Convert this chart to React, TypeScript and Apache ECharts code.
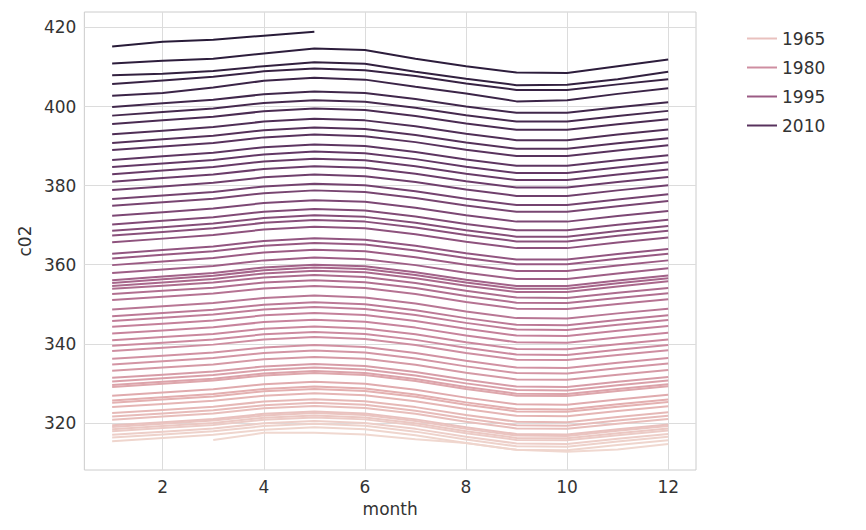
import React, { useEffect, useRef } from "react";
import * as echarts from "echarts";

const months = [1, 2, 3, 4, 5, 6, 7, 8, 9, 10, 11, 12];
const startYear = 1958;
const xTicks = [2, 4, 6, 8, 10, 12];
const yTicks = [320, 340, 360, 380, 400, 420];
const legendYears = ["1965", "1980", "1995", "2010"];
const rows: (number | null)[][] = [
[null,null,315.7,317.5,317.5,317.1,315.9,314.9,313.2,312.7,313.3,314.7],
[315.4,316.2,317.0,318.3,318.9,318.4,316.9,314.9,313.2,313.1,314.4,315.6],
[316.3,317.1,317.9,319.2,319.8,319.3,317.8,315.8,314.1,314.0,315.3,316.5],
[317.0,317.8,318.6,319.9,320.5,320.0,318.5,316.5,314.8,314.7,316.0,317.2],
[317.9,318.7,319.5,320.8,321.4,320.9,319.4,317.4,315.7,315.6,316.9,318.1],
[318.4,319.2,320.0,321.3,321.9,321.4,319.9,317.9,316.2,316.1,317.4,318.6],
[319.0,319.8,320.6,321.9,322.5,322.0,320.5,318.5,316.8,316.7,318.0,319.2],
[319.4,320.2,321.0,322.3,322.9,322.4,320.9,318.9,317.2,317.1,318.4,319.6],
[320.8,321.6,322.4,323.7,324.3,323.8,322.3,320.3,318.6,318.5,319.8,321.0],
[321.6,322.4,323.2,324.5,325.1,324.6,323.1,321.1,319.4,319.3,320.6,321.8],
[322.5,323.3,324.1,325.4,326.0,325.5,324.0,322.0,320.3,320.2,321.5,322.7],
[324.0,324.8,325.6,326.9,327.5,327.0,325.5,323.5,321.8,321.7,323.0,324.2],
[325.1,325.9,326.7,328.0,328.6,328.1,326.6,324.6,322.9,322.8,324.1,325.3],
[325.7,326.5,327.3,328.6,329.2,328.7,327.2,325.2,323.5,323.4,324.7,325.9],
[326.9,327.7,328.5,329.8,330.4,329.9,328.4,326.4,324.7,324.6,325.9,327.1],
[329.1,329.9,330.7,332.0,332.6,332.1,330.6,328.6,326.9,326.8,328.1,329.3],
[329.6,330.4,331.2,332.5,333.1,332.6,331.1,329.1,327.4,327.3,328.6,329.8],
[330.5,331.3,332.1,333.4,334.0,333.5,332.0,330.0,328.3,328.2,329.5,330.7],
[331.4,332.2,333.0,334.3,334.9,334.4,332.9,330.9,329.2,329.1,330.4,331.6],
[333.2,334.0,334.8,336.1,336.7,336.2,334.7,332.7,331.0,330.9,332.2,333.4],
[334.8,335.6,336.4,337.7,338.3,337.8,336.3,334.3,332.6,332.5,333.8,335.0],
[336.2,337.0,337.8,339.1,339.7,339.2,337.7,335.7,334.0,333.9,335.2,336.4],
[338.2,339.0,339.8,341.1,341.7,341.2,339.7,337.7,336.0,335.9,337.2,338.4],
[339.5,340.3,341.1,342.4,343.0,342.5,341.0,339.0,337.3,337.2,338.5,339.7],
[340.9,341.7,342.5,343.8,344.4,343.9,342.4,340.4,338.7,338.6,339.9,341.1],
[342.6,343.4,344.2,345.5,346.1,345.6,344.1,342.1,340.4,340.3,341.6,342.8],
[344.3,345.1,345.9,347.2,347.8,347.3,345.8,343.8,342.1,342.0,343.3,344.5],
[345.8,346.6,347.4,348.7,349.3,348.8,347.3,345.3,343.6,343.5,344.8,346.0],
[347.0,347.8,348.6,349.9,350.5,350.0,348.5,346.5,344.8,344.7,346.0,347.2],
[348.7,349.5,350.3,351.6,352.2,351.7,350.2,348.2,346.5,346.4,347.7,348.9],
[351.1,351.9,352.7,354.0,354.6,354.1,352.6,350.6,348.9,348.8,350.1,351.3],
[352.6,353.4,354.2,355.5,356.1,355.6,354.1,352.1,350.4,350.3,351.6,352.8],
[353.9,354.7,355.5,356.8,357.4,356.9,355.4,353.4,351.7,351.6,352.9,354.1],
[354.6,355.5,356.4,357.8,358.5,358.1,356.6,354.7,353.1,353.1,354.5,355.8],
[355.4,356.3,357.2,358.6,359.3,358.9,357.4,355.5,353.9,353.9,355.3,356.6],
[356.1,357.0,357.9,359.3,360.0,359.6,358.1,356.2,354.6,354.6,356.0,357.3],
[357.9,358.8,359.7,361.1,361.8,361.4,359.9,358.0,356.4,356.4,357.8,359.1],
[359.9,360.8,361.7,363.1,363.8,363.4,361.9,360.0,358.4,358.4,359.8,361.1],
[361.6,362.5,363.4,364.8,365.5,365.1,363.6,361.7,360.1,360.1,361.5,362.8],
[362.8,363.7,364.6,366.0,366.7,366.3,364.8,362.9,361.3,361.3,362.7,364.0],
[365.7,366.6,367.5,368.9,369.6,369.2,367.7,365.8,364.2,364.2,365.6,366.9],
[367.4,368.3,369.2,370.6,371.3,370.9,369.4,367.5,365.9,365.9,367.3,368.6],
[368.6,369.5,370.4,371.8,372.5,372.1,370.6,368.7,367.1,367.1,368.5,369.8],
[370.2,371.1,372.0,373.4,374.1,373.7,372.2,370.3,368.7,368.7,370.1,371.4],
[372.4,373.3,374.2,375.6,376.3,375.9,374.4,372.5,370.9,370.9,372.3,373.6],
[374.9,375.8,376.7,378.1,378.8,378.4,376.9,375.0,373.4,373.4,374.8,376.1],
[376.6,377.5,378.4,379.8,380.5,380.1,378.6,376.7,375.1,375.1,376.5,377.8],
[378.9,379.8,380.7,382.1,382.8,382.4,380.9,379.0,377.4,377.4,378.8,380.1],
[381.0,381.9,382.8,384.2,384.9,384.5,383.0,381.1,379.5,379.5,380.9,382.2],
[382.9,383.8,384.7,386.1,386.8,386.4,384.9,383.0,381.4,381.4,382.8,384.1],
[384.7,385.6,386.5,387.9,388.6,388.2,386.7,384.8,383.2,383.2,384.6,385.9],
[386.5,387.4,388.3,389.7,390.4,390.0,388.5,386.6,385.0,385.0,386.4,387.7],
[389.0,389.9,390.8,392.2,392.9,392.5,391.0,389.1,387.5,387.5,388.9,390.2],
[390.8,391.7,392.6,394.0,394.7,394.3,392.8,390.9,389.3,389.3,390.7,392.0],
[393.0,393.9,394.8,396.2,396.9,396.5,395.0,393.1,391.5,391.5,392.9,394.2],
[395.6,396.5,397.4,398.8,399.5,399.1,397.6,395.7,394.1,394.1,395.5,396.8],
[397.7,398.6,399.5,400.9,401.6,401.2,399.7,397.8,396.2,396.2,397.6,398.9],
[399.9,400.8,401.7,403.1,403.8,403.4,401.9,400.0,398.4,398.4,399.8,401.1],
[402.7,403.4,404.8,406.5,407.3,406.8,405.0,403.3,401.3,401.6,403.2,404.6],
[405.7,406.6,407.5,408.9,409.6,409.2,407.7,405.8,404.2,404.2,405.6,406.9],
[407.9,408.3,409.0,410.2,411.2,410.8,408.8,407.0,405.4,405.5,406.9,408.8],
[410.9,411.6,412.1,413.4,414.7,414.3,412.1,410.2,408.6,408.5,410.2,411.9],
[415.2,416.4,416.9,417.9,418.9,null,null,null,null,null,null,null],
];

const stops = [[240,216,208],[228,176,176],[200,132,156],[154,90,132],[100,56,102],[40,27,56]];
function colorFor(i: number, n: number) {
  const t = (i / (n - 1)) * (stops.length - 1);
  const k = Math.min(Math.floor(t), stops.length - 2);
  const f = t - k;
  const c = stops[k].map((v, j) => Math.round(v + (stops[k + 1][j] - v) * f));
  return `rgb(${c[0]},${c[1]},${c[2]})`;
}

export default function App() {
  const ref = useRef<HTMLDivElement>(null);
  useEffect(() => {
    const chart = echarts.init(ref.current!, null, { renderer: "svg" });
    const n = rows.length;
    const series = rows.map((r, i) => ({
      name: String(startYear + i),
      type: "line",
      showSymbol: false,
      symbol: "none",
      lineStyle: { width: 2 },
      color: colorFor(i, n),
      data: months.map((m, j) => [m, r[j]]).filter((p) => p[1] !== null),
    }));
    const font = { fontFamily: "DejaVu Sans", color: "#333", fontSize: 17 };
    chart.setOption({
      animation: false,
      backgroundColor: "#fff",
      textStyle: { fontFamily: "DejaVu Sans" },
      grid: { left: 68, right: 162, top: 4, bottom: 50, show: true, borderColor: "#cccccc", borderWidth: 1 },
      legend: {
        data: legendYears,
        orient: "vertical",
        left: 734,
        top: 17,
        icon: "rect",
        itemWidth: 30,
        itemHeight: 2,
        itemGap: 12,
        textStyle: font,
      },
      xAxis: {
        type: "value",
        min: 0.45,
        max: 12.55,
        name: "month",
        nameLocation: "middle",
        nameGap: 30,
        nameTextStyle: font,
        axisLine: { show: false },
        axisTick: { show: false, customValues: xTicks },
        axisLabel: { ...font, customValues: xTicks, margin: 8 },
        splitLine: { show: true, lineStyle: { color: "#dcdcdc" } },
      },
      yAxis: {
        type: "value",
        min: 308.1,
        max: 423.9,
        name: "c02",
        nameLocation: "middle",
        nameGap: 46,
        nameTextStyle: font,
        axisLine: { show: false },
        axisTick: { show: false, customValues: yTicks },
        axisLabel: { ...font, customValues: yTicks, margin: 8 },
        splitLine: { show: true, lineStyle: { color: "#dcdcdc" } },
      },
      series,
    });
    return () => chart.dispose();
  }, []);
  return <div ref={ref} style={{ width: 850, height: 514 }} />;
}
